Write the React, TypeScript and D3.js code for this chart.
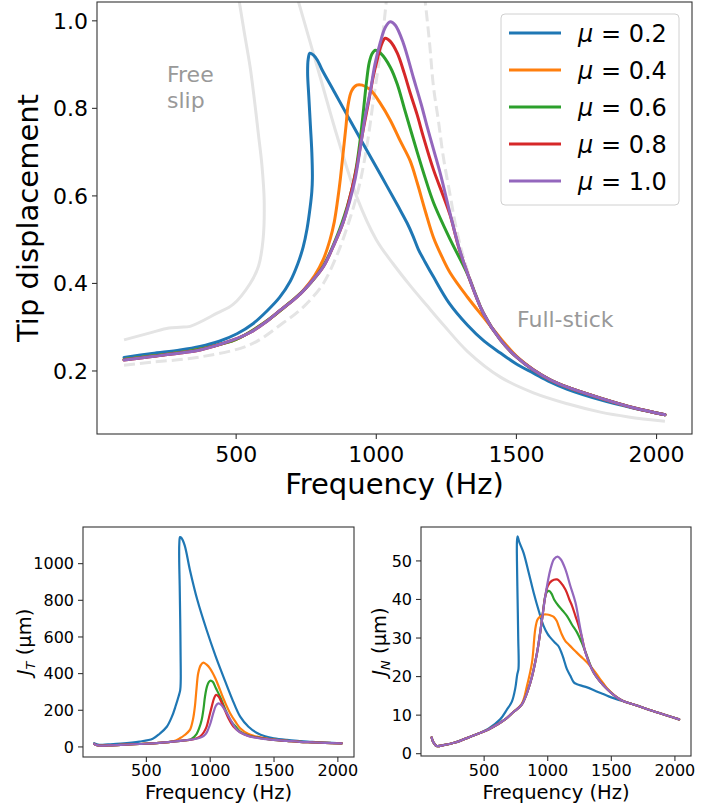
import React from 'react'
import * as d3 from 'd3'

type Pt = [number, number]

const FONT = '"DejaVu Sans", sans-serif'
const MU_LABELS = ['0.2', '0.4', '0.6', '0.8', '1.0']
const MU_COLORS = ['#1f77b4', '#ff7f0e', '#2ca02c', '#d62728', '#9467bd']
const GREY = '#e4e4e4'

const FREQ_DOMAIN = [3.5, 2126.5]
const FREQ_TICKS = [500, 1000, 1500, 2000]
const TIP_TICKS = [0.2, 0.4, 0.6, 0.8, 1.0]
const JT_TICKS = [0, 200, 400, 600, 800, 1000]
const JN_TICKS = [0, 10, 20, 30, 40, 50]

// tip displacement, [frequency Hz, value]
const tipMu02: Pt[] = [
  [100, 0.231], [200, 0.24], [300, 0.248], [371, 0.256], [440, 0.268], [503, 0.285], [560, 0.308],
  [610, 0.337], [655, 0.368], [693, 0.405], [720, 0.445], [739, 0.483], [753, 0.525], [764, 0.574],
  [770, 0.61], [772, 0.64], [770, 0.7], [765, 0.76], [759, 0.83], [755, 0.88], [757, 0.912],
  [763, 0.926], [775, 0.922], [790, 0.91], [805, 0.89], [850, 0.838], [900, 0.78], [954, 0.718],
  [1020, 0.643], [1079, 0.575], [1110, 0.538], [1130, 0.51], [1150, 0.478], [1175, 0.448],
  [1204, 0.415], [1260, 0.355], [1325, 0.305], [1385, 0.268], [1443, 0.241], [1500, 0.216],
  [1561, 0.195], [1620, 0.175], [1682, 0.158], [1800, 0.134], [1920, 0.115], [2030, 0.1],
]
const tipMu04: Pt[] = [
  [100, 0.226], [200, 0.234], [300, 0.242], [400, 0.254], [500, 0.272], [600, 0.31], [693, 0.357],
  [739, 0.384], [780, 0.418], [811, 0.455], [835, 0.5], [850, 0.54], [862, 0.59], [872, 0.64],
  [882, 0.7], [892, 0.76], [900, 0.81], [912, 0.84], [930, 0.853], [950, 0.853], [979, 0.842],
  [1014, 0.812], [1050, 0.773], [1086, 0.725], [1121, 0.68], [1146, 0.63], [1175, 0.565],
  [1204, 0.505], [1235, 0.46], [1264, 0.424], [1325, 0.369], [1382, 0.323], [1443, 0.275],
  [1500, 0.234], [1561, 0.203], [1620, 0.18], [1682, 0.163], [1800, 0.138], [1918, 0.116], [2030, 0.1],
]
const tipMu06: Pt[] = [
  [100, 0.226], [200, 0.234], [300, 0.242], [400, 0.254], [500, 0.272], [600, 0.31], [693, 0.357],
  [750, 0.39], [811, 0.44], [861, 0.51], [896, 0.575], [915, 0.62], [930, 0.67], [943, 0.73],
  [955, 0.8], [965, 0.86], [975, 0.905], [985, 0.925], [997, 0.933], [1015, 0.926], [1050, 0.894],
  [1075, 0.855], [1100, 0.8], [1146, 0.7], [1175, 0.64], [1204, 0.585], [1264, 0.5], [1325, 0.422],
  [1382, 0.332], [1443, 0.271], [1500, 0.232], [1561, 0.202], [1620, 0.18], [1682, 0.163],
  [1800, 0.138], [1918, 0.116], [2030, 0.1],
]
const tipMu08: Pt[] = [
  [100, 0.225], [200, 0.233], [300, 0.241], [371, 0.248], [489, 0.271], [550, 0.288], [611, 0.314],
  [660, 0.34], [693, 0.356], [729, 0.376], [770, 0.405], [811, 0.438], [850, 0.49], [882, 0.54],
  [907, 0.6], [930, 0.665], [950, 0.74], [971, 0.81], [990, 0.875], [1003, 0.91], [1018, 0.945],
  [1032, 0.96], [1050, 0.953], [1075, 0.926], [1100, 0.88], [1121, 0.835], [1146, 0.785],
  [1168, 0.735], [1204, 0.66], [1239, 0.6], [1264, 0.555], [1295, 0.48], [1325, 0.424],
  [1382, 0.332], [1443, 0.271], [1500, 0.232], [1561, 0.202], [1620, 0.18], [1682, 0.163],
  [1800, 0.138], [1918, 0.116], [2030, 0.1],
]
const tipMu10: Pt[] = [
  [100, 0.225], [200, 0.233], [300, 0.241], [371, 0.248], [489, 0.271], [550, 0.288], [611, 0.314],
  [660, 0.34], [693, 0.356], [729, 0.376], [770, 0.405], [811, 0.438], [850, 0.49], [882, 0.54],
  [904, 0.585], [925, 0.64], [943, 0.71], [960, 0.78], [979, 0.84], [995, 0.9], [1014, 0.95],
  [1032, 0.985], [1050, 0.998], [1068, 0.99], [1096, 0.95], [1132, 0.871], [1160, 0.81],
  [1182, 0.757], [1204, 0.707], [1229, 0.65], [1264, 0.558], [1295, 0.482], [1325, 0.424],
  [1382, 0.332], [1443, 0.271], [1500, 0.232], [1561, 0.202], [1620, 0.18], [1682, 0.163],
  [1800, 0.138], [1918, 0.116], [2030, 0.1],
]

// reference responses (grey)
const freeSlipLow: Pt[] = [
  [100, 0.271], [193, 0.287], [260, 0.298], [300, 0.3], [336, 0.302], [432, 0.332], [489, 0.352],
  [550, 0.4], [580, 0.44], [596, 0.5], [600, 0.59], [592, 0.67], [579, 0.743], [565, 0.82],
  [550, 0.894], [530, 0.97], [507, 1.06],
]
const freeSlipHigh: Pt[] = [
  [715, 1.06], [760, 0.96], [800, 0.871], [861, 0.735], [932, 0.595], [1000, 0.5], [1060, 0.445],
  [1121, 0.395], [1180, 0.35], [1240, 0.305], [1325, 0.245], [1443, 0.186], [1561, 0.15],
  [1682, 0.125], [1800, 0.106], [1900, 0.095], [2030, 0.085],
]
const fullStickLow: Pt[] = [
  [100, 0.213], [200, 0.22], [371, 0.232], [550, 0.26], [668, 0.31], [720, 0.335], [764, 0.362],
  [811, 0.4], [860, 0.465], [907, 0.55], [940, 0.625], [968, 0.72], [990, 0.82], [1007, 0.894],
  [1025, 0.98], [1038, 1.06],
]
const fullStickHigh: Pt[] = [
  [1172, 1.06], [1190, 0.95], [1204, 0.85], [1222, 0.77], [1239, 0.69], [1264, 0.6], [1289, 0.515],
  [1325, 0.43], [1382, 0.335], [1443, 0.272], [1561, 0.202], [1682, 0.163], [1800, 0.138],
  [1918, 0.116], [2030, 0.1],
]

// J_T (um)
const jtMu02: Pt[] = [
  [91, 20], [130, 12], [200, 14], [300, 18], [446, 29], [550, 45], [604, 72], [660, 110], [700, 165],
  [730, 225], [752, 275], [765, 310], [769, 360], [768, 500], [765, 700], [761, 880], [757, 1030],
  [758, 1110], [764, 1145], [775, 1140], [800, 1100], [841, 966], [900, 800], [972, 638],
  [1040, 500], [1103, 384], [1170, 265], [1235, 165], [1300, 110], [1367, 76], [1430, 58],
  [1498, 47], [1600, 38], [1700, 32], [1800, 27], [1900, 24], [2030, 20],
]
const jtMu04: Pt[] = [
  [91, 16], [120, 8], [200, 8], [300, 11], [446, 16], [600, 22], [709, 30], [762, 47], [800, 65],
  [841, 93], [865, 150], [880, 220], [893, 320], [906, 402], [925, 445], [946, 460], [970, 450],
  [998, 429], [1040, 375], [1077, 311], [1115, 245], [1156, 184], [1200, 135], [1235, 102],
  [1300, 70], [1367, 56], [1430, 47], [1498, 40], [1600, 33], [1700, 28], [1800, 25], [1900, 22],
  [2030, 19],
]
const jtMu06: Pt[] = [
  [91, 16], [120, 8], [200, 8], [300, 11], [446, 16], [600, 22], [709, 29], [800, 36], [850, 42],
  [893, 70], [915, 105], [933, 147], [948, 210], [959, 274], [975, 330], [990, 355], [1004, 362],
  [1020, 355], [1045, 320], [1077, 274], [1115, 210], [1156, 147], [1200, 110], [1235, 84],
  [1300, 62], [1367, 52], [1430, 45], [1498, 38], [1600, 33], [1700, 28], [1800, 25], [1900, 22],
  [2030, 19],
]
const jtMu08: Pt[] = [
  [91, 16], [120, 8], [200, 8], [300, 11], [446, 16], [600, 22], [709, 29], [800, 36], [870, 42],
  [920, 56], [950, 80], [972, 111], [992, 165], [1012, 220], [1030, 265], [1046, 284], [1065, 275],
  [1103, 220], [1140, 160], [1182, 111], [1235, 80], [1300, 60], [1367, 51], [1430, 45],
  [1498, 38], [1600, 33], [1700, 28], [1800, 25], [1900, 22], [2030, 19],
]
const jtMu10: Pt[] = [
  [91, 16], [120, 8], [200, 8], [300, 11], [446, 16], [600, 22], [709, 29], [800, 36], [870, 42],
  [920, 50], [950, 60], [972, 78], [1000, 125], [1024, 184], [1045, 225], [1064, 238], [1085, 230],
  [1130, 184], [1170, 135], [1209, 93], [1260, 70], [1314, 56], [1400, 45], [1498, 38], [1600, 33],
  [1700, 28], [1800, 25], [1900, 22], [2030, 19],
]

// J_N (um)
const jnMu02: Pt[] = [
  [87, 4.2], [100, 3.0], [126, 2.0], [180, 2.2], [271, 2.9], [400, 4.5], [534, 6.5], [626, 8.9],
  [680, 11.5], [718, 13.5], [745, 17], [760, 20.5], [770, 22], [768, 30], [763, 40], [758, 50],
  [758, 55], [763, 56.4], [775, 55], [810, 52.1], [850, 47], [889, 41.8], [930, 37], [968, 33.1],
  [1000, 31], [1021, 30.1], [1060, 28.7], [1086, 27.8], [1110, 26], [1126, 24.5], [1150, 22],
  [1178, 20.2], [1205, 18.5], [1231, 18], [1270, 17.6], [1310, 17.2], [1380, 16.2], [1441, 15.4],
  [1500, 14.6], [1573, 13.8], [1700, 12.5], [1850, 10.8], [2033, 8.9],
]
const jnMu04: Pt[] = [
  [87, 4.2], [100, 3.0], [126, 2.0], [180, 2.2], [271, 2.9], [400, 4.5], [534, 6.3], [600, 7.5],
  [665, 8.9], [730, 10.8], [797, 13], [837, 17.6], [876, 23.6], [902, 32.3], [920, 34.8],
  [942, 35.6], [970, 36.1], [994, 36.1], [1020, 35.9], [1047, 35.5], [1070, 34.5], [1086, 33.1],
  [1110, 31], [1139, 29.2], [1160, 28.5], [1178, 27.9], [1220, 26.5], [1257, 25.3], [1300, 24],
  [1336, 22.7], [1370, 21.3], [1402, 19.8], [1441, 18.1], [1468, 16.9], [1573, 14], [1700, 12.5],
  [1850, 10.8], [2033, 8.9],
]
const jnMu06: Pt[] = [
  [87, 4.2], [100, 3.0], [126, 2.0], [180, 2.2], [271, 2.9], [400, 4.5], [534, 6.3], [600, 7.5],
  [665, 8.9], [730, 10.8], [797, 12.8], [863, 18.4], [916, 26.2], [955, 34.8], [981, 40.9],
  [995, 42], [1012, 42.2], [1030, 41.5], [1050, 40], [1086, 38.3], [1120, 37], [1152, 35.7],
  [1190, 33.5], [1231, 31.4], [1265, 29], [1297, 26.4], [1362, 21], [1468, 16.7], [1573, 14],
  [1700, 12.5], [1850, 10.8], [2033, 8.9],
]
const jnMu08: Pt[] = [
  [87, 4.2], [100, 3.0], [126, 2.0], [180, 2.2], [271, 2.9], [400, 4.5], [534, 6.3], [600, 7.5],
  [665, 8.9], [730, 10.8], [797, 12.8], [863, 18.4], [916, 26.2], [955, 34.8], [981, 40.9],
  [1000, 43.5], [1030, 44.8], [1073, 45.2], [1100, 44.5], [1139, 42.6], [1170, 40], [1192, 38.3],
  [1220, 35.5], [1244, 33.1], [1270, 30], [1297, 26.2], [1362, 21], [1468, 16.7], [1573, 14],
  [1700, 12.5], [1850, 10.8], [2033, 8.9],
]
const jnMu10: Pt[] = [
  [87, 4.2], [100, 3.0], [126, 2.0], [180, 2.2], [271, 2.9], [400, 4.5], [534, 6.3], [600, 7.5],
  [665, 8.9], [730, 10.8], [797, 12.8], [863, 18.4], [916, 26.2], [955, 34.8], [981, 40.9],
  [1021, 47.8], [1050, 50.5], [1078, 51.1], [1105, 50.3], [1139, 47.8], [1178, 43.5], [1218, 39.2],
  [1257, 32.3], [1297, 26.2], [1362, 21], [1468, 16.7], [1573, 14], [1700, 12.5], [1850, 10.8],
  [2033, 8.9],
]

const tipSeries = [tipMu02, tipMu04, tipMu06, tipMu08, tipMu10]
const jtSeries = [jtMu02, jtMu04, jtMu06, jtMu08, jtMu10]
const jnSeries = [jnMu02, jnMu04, jnMu06, jnMu08, jnMu10]

type Frame = { l: number; t: number; r: number; b: number }

function Panel({ id, frame, yDomain, yTicks, yFmt, tickFont, lineWidth, series, xLabel, yLabel, labelFont, yLabelX, xLabelY, tickBase, children }: any) {
  const f: Frame = frame
  const x = d3.scaleLinear().domain(FREQ_DOMAIN).range([f.l, f.r])
  const y = d3.scaleLinear().domain(yDomain).range([f.b, f.t])
  const line = d3.line<Pt>().x(d => x(d[0])).y(d => y(d[1])).curve(d3.curveCatmullRom.alpha(0.5))

  return (
    <g>
      <defs>
        <clipPath id={id}>
          <rect x={f.l} y={f.t} width={f.r - f.l} height={f.b - f.t} />
        </clipPath>
      </defs>
      <g clipPath={`url(#${id})`}>
        {children && children(line)}
        {series.map((s: Pt[], i: number) => (
          <path key={i} d={line(s) || ''} fill="none" stroke={MU_COLORS[i]} strokeWidth={lineWidth}
            strokeLinejoin="round" strokeLinecap="round" />
        ))}
      </g>
      <rect x={f.l} y={f.t} width={f.r - f.l} height={f.b - f.t} fill="none" stroke="#333" strokeWidth={1.1} />
      {FREQ_TICKS.map(t => (
        <g key={t}>
          <line x1={x(t)} x2={x(t)} y1={f.b} y2={f.b + 5} stroke="#333" strokeWidth={1.1} />
          <text x={x(t)} y={f.b + tickBase} textAnchor="middle" fontSize={tickFont} fill="#000">{t}</text>
        </g>
      ))}
      {yTicks.map((t: number) => (
        <g key={t}>
          <line x1={f.l - 5} x2={f.l} y1={y(t)} y2={y(t)} stroke="#333" strokeWidth={1.1} />
          <text x={f.l - 9} y={y(t)} dy="0.36em" textAnchor="end" fontSize={tickFont} fill="#000">{yFmt(t)}</text>
        </g>
      ))}
      <text x={(f.l + f.r) / 2} y={xLabelY} textAnchor="middle" fontSize={labelFont} fill="#000">{xLabel}</text>
      <text transform={`translate(${yLabelX},${(f.t + f.b) / 2}) rotate(-90)`} textAnchor="middle" fontSize={labelFont} fill="#000">{yLabel}</text>
    </g>
  )
}

export default function App() {
  const fmt1 = d3.format('.1f')
  const fmt0 = d3.format('d')
  const legendTop = 14

  return (
    <svg width={705} height={805} style={{ position: 'absolute', left: 0, top: 0, background: '#fff' }} fontFamily={FONT}>
      <Panel id="clip-tip" frame={{ l: 97, t: 2, r: 692, b: 434 }} yDomain={[0.056, 1.043]} yTicks={TIP_TICKS}
        yFmt={fmt1} tickFont={22} lineWidth={3} series={tipSeries} xLabel="Frequency (Hz)"
        yLabel="Tip displacement" labelFont={29} yLabelX={38} xLabelY={494} tickBase={28}>
        {(line: any) => (
          <g fill="none" stroke={GREY} strokeWidth={3}>
            <path d={line(freeSlipLow)} />
            <path d={line(freeSlipHigh)} />
            <path d={line(fullStickLow)} strokeDasharray="11,5" />
            <path d={line(fullStickHigh)} strokeDasharray="11,5" />
          </g>
        )}
      </Panel>

      <text x={167} y={82} fontSize={22} fill="#999">Free</text>
      <text x={167} y={108} fontSize={22} fill="#999">slip</text>
      <text x={517} y={327} fontSize={22} fill="#999">Full-stick</text>

      <g>
        <rect x={501} y={legendTop} width={178} height={191} rx={4} fill="#fff" fillOpacity={0.8} stroke="#d0d0d0" />
        {MU_LABELS.map((m, i) => {
          const cy = legendTop + 19 + i * 37
          return (
            <g key={m}>
              <line x1={509} x2={561} y1={cy} y2={cy} stroke={MU_COLORS[i]} strokeWidth={3} />
              <text x={578} y={cy + 8.5} fontSize={24} fill="#000">
                <tspan fontStyle="italic">μ</tspan>
                <tspan> = {m}</tspan>
              </text>
            </g>
          )
        })}
      </g>

      <Panel id="clip-jt" frame={{ l: 83, t: 527, r: 354, b: 757 }} yDomain={[-55, 1200]} yTicks={JT_TICKS}
        yFmt={fmt0} tickFont={16} lineWidth={2.2} series={jtSeries} xLabel="Frequency (Hz)"
        yLabel={<><tspan fontStyle="italic">J</tspan><tspan fontStyle="italic" fontSize={13} dy={4}>T</tspan><tspan dy={-4}> (μm)</tspan></>}
        labelFont={19.5} yLabelX={31} xLabelY={799} tickBase={19} />

      <Panel id="clip-jn" frame={{ l: 421, t: 527, r: 691, b: 756 }} yDomain={[-0.6, 58.8]} yTicks={JN_TICKS}
        yFmt={fmt0} tickFont={16} lineWidth={2.2} series={jnSeries} xLabel="Frequency (Hz)"
        yLabel={<><tspan fontStyle="italic">J</tspan><tspan fontStyle="italic" fontSize={13} dy={4}>N</tspan><tspan dy={-4}> (μm)</tspan></>}
        labelFont={19.5} yLabelX={386} xLabelY={799} tickBase={20} />
    </svg>
  )
}
